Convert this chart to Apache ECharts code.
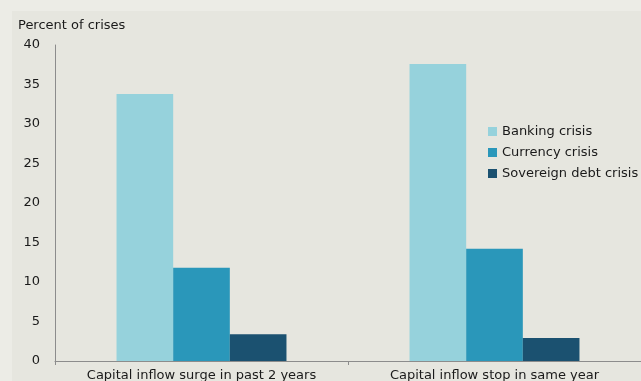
<!DOCTYPE html>
<html><head><meta charset="utf-8">
<script src="https://cdn.jsdelivr.net/npm/echarts@6/dist/echarts.min.js"></script>
<style>html,body{margin:0;padding:0;background:#ECECE6}#c{width:641px;height:381px}</style>
</head><body><div id="c"></div>
<script>
const categories = ["Capital inflow surge in past 2 years", "Capital inflow stop in same year"];
const seriesNames = ["Banking crisis", "Currency crisis", "Sovereign debt crisis"];
const banking = [33.8, 37.6];
const currency = [11.8, 14.2];
const sovereign = [3.4, 2.9];
const yTicks = [0, 5, 10, 15, 20, 25, 30, 35, 40];
const colors = ["#96D2DC", "#2A97BA", "#1B5170"];
const font = "'DejaVu Sans', sans-serif";
const chart = echarts.init(document.getElementById('c'), null, {renderer: 'canvas'});
chart.setOption({
  backgroundColor: '#ECECE6',
  animation: false,
  graphic: [{type: 'rect', left: 12, top: 11, shape: {width: 629, height: 370}, style: {fill: '#E6E6DF'}, z: -10}],
  title: {text: 'Percent of crises', left: 13, top: 14, textStyle: {fontFamily: font, fontSize: 13, fontWeight: 'normal', color: '#1a1a1a'}},
  legend: {orient: 'vertical', left: 483, top: 120, itemWidth: 9, itemHeight: 9, itemGap: 8, icon: 'rect',
    textStyle: {fontFamily: font, fontSize: 13, color: '#1a1a1a'}, data: seriesNames},
  grid: {left: 55, right: 0, top: 45, bottom: 20, containLabel: false, outerBoundsMode: 'none'},
  xAxis: {type: 'category', data: categories,
    axisLine: {lineStyle: {color: '#8C8C8C', width: 1}},
    axisTick: {show: true, length: 4, lineStyle: {color: '#8C8C8C'}},
    axisLabel: {fontFamily: font, fontSize: 13, color: '#1a1a1a', margin: 8, interval: 0, hideOverlap: false}},
  yAxis: {type: 'value', min: yTicks[0], max: yTicks[yTicks.length-1], interval: 5,
    axisLine: {show: true, lineStyle: {color: '#8C8C8C', width: 1}},
    axisTick: {show: false}, splitLine: {show: false},
    axisLabel: {fontFamily: font, fontSize: 13, color: '#1a1a1a', margin: 15}},
  series: [
    {name: seriesNames[0], type: 'bar', data: banking, itemStyle: {color: colors[0]}, barGap: '0%', barCategoryGap: '42%'},
    {name: seriesNames[1], type: 'bar', data: currency, itemStyle: {color: colors[1]}},
    {name: seriesNames[2], type: 'bar', data: sovereign, itemStyle: {color: colors[2]}}
  ]
});
</script></body></html>
